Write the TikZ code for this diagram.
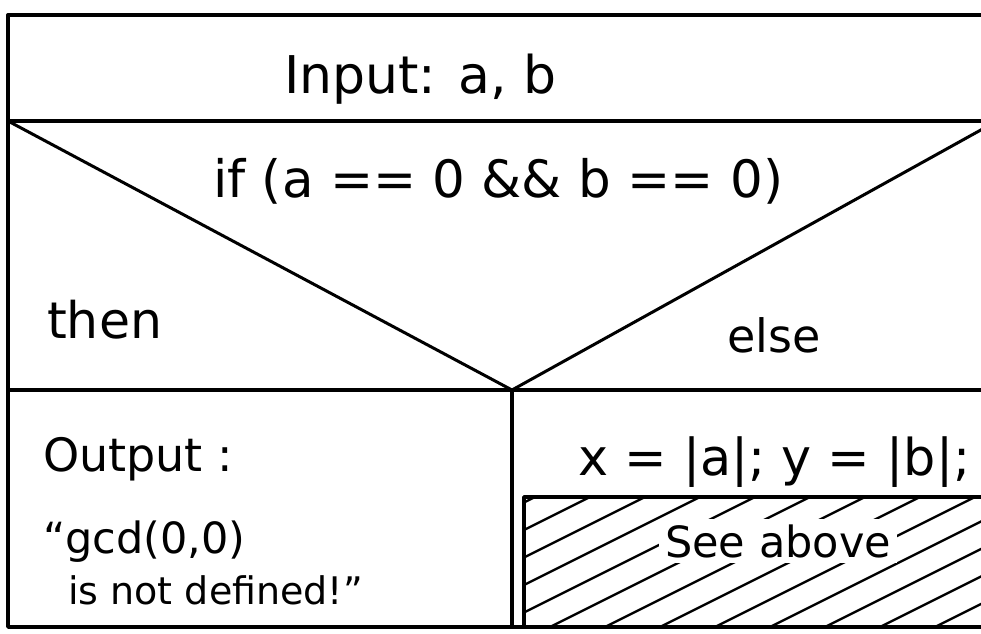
\documentclass[tikz,border=0pt]{standalone}
\usepackage{fontspec}
\setmainfont{DejaVu Sans}
\newcommand\fsz[1]{\fontsize{#1}{#1}\selectfont}
\begin{document}
\begin{tikzpicture}[x=1pt,y=-1pt,
  frame/.style={line width=3.5pt, line cap=round, line join=round},
  diag/.style={line width=3pt, line cap=round},
  hatchline/.style={line width=2.4pt, line cap=round},
  lbl/.style={inner sep=0pt, anchor=base west}]
\useasboundingbox (0,0) rectangle (981,633);
\clip (0,0) rectangle (981,633);
\fill[white] (0,0) rectangle (981,633);
% corner coordinates
\coordinate (TL) at (8,15);
\coordinate (TR) at (997,15);
\coordinate (ML) at (8,121);
\coordinate (MR) at (997,121);
\coordinate (apex) at (512,390);
\coordinate (HL) at (8,390);
\coordinate (HR) at (997,390);
\coordinate (BL) at (8,627);
\coordinate (BR) at (997,627);
\coordinate (BM) at (512,627);
\coordinate (HBtl) at (524,497);
\coordinate (HBtr) at (997,497);
\coordinate (HBbl) at (524,627);
% hatching
\begin{scope}
  \clip (HBtl) rectangle (BR);
  \foreach \i in {-7,...,10} {
    \draw[hatchline] (524+\i*55,640) -- ++(340,-170);
  }
\end{scope}
% frame
\draw[frame] (TL) -- (TR);
\draw[frame] (TL) -- (BL) -- (BR);
\draw[frame] (ML) -- (MR);
\draw[frame] (HL) -- (HR);
\draw[frame] (apex) -- (BM);
\draw[diag] (ML) -- (apex) -- (MR);
\draw[frame] (HBbl) -- (HBtl) -- (HBtr);
% texts
\node[lbl, font=\fsz{52}] (input) at (284,93) {Input: a, b};
\node[lbl, font=\fsz{51.5}] (cond) at (213,197) {if (a == 0 \&\& b == 0)};
\node[lbl, font=\fsz{50.5}] (then) at (47,338) {then};
\node[lbl, font=\fsz{46}] (else) at (727,352) {else};
\node[lbl, font=\fsz{46}] (out) at (43,471) {Output :};
\node[lbl, font=\fsz{43}] (gcd) at (43,553) {“gcd(0,0)};
\node[lbl, font=\fsz{38}] (undef) at (68,604) {is not defined!”};
\node[lbl, font=\fsz{50.8}] (assign) at (578,475) {x = |a|; y = |b|;};
\node[lbl, font=\fsz{43}, fill=white, inner xsep=6pt, inner ysep=5pt] (see) at (659,557) {See above};
\end{tikzpicture}
\end{document}
